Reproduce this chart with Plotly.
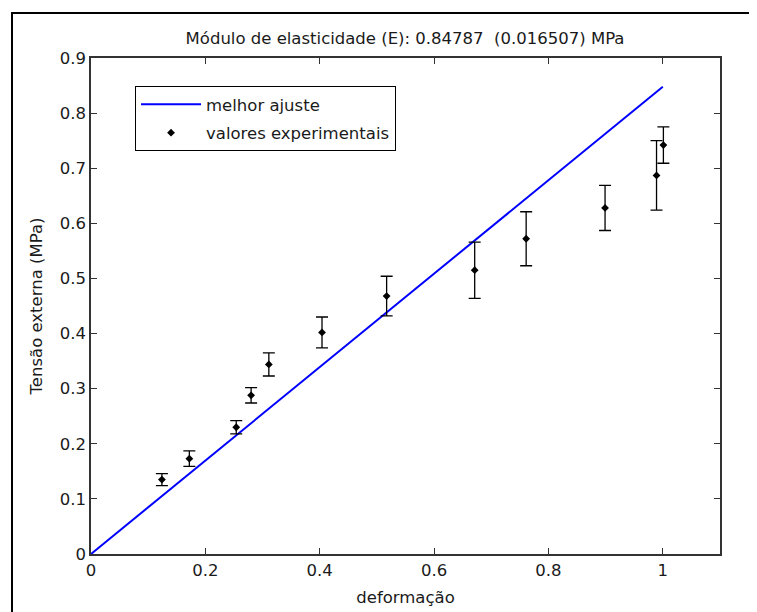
import plotly.graph_objects as go

# Data
deformacao = [0.124, 0.172, 0.254, 0.280, 0.311, 0.404, 0.517, 0.671, 0.761, 0.899, 0.989, 1.001]
tensao = [0.135, 0.173, 0.230, 0.288, 0.344, 0.402, 0.468, 0.515, 0.572, 0.628, 0.687, 0.742]
erro = [0.011, 0.014, 0.012, 0.014, 0.021, 0.028, 0.036, 0.051, 0.049, 0.041, 0.063, 0.033]
E = 0.84787
E_err = 0.016507
fit_x = [0, 1]
fit_y = [E * v for v in fit_x]

xticks = [0, 0.2, 0.4, 0.6, 0.8, 1]
xticklabels = ["0", "0.2", "0.4", "0.6", "0.8", "1"]
yticks = [0, 0.1, 0.2, 0.3, 0.4, 0.5, 0.6, 0.7, 0.8, 0.9]
yticklabels = ["0", "0.1", "0.2", "0.3", "0.4", "0.5", "0.6", "0.7", "0.8", "0.9"]

FONT = "DejaVu Sans"
TXT = "#1a1a1a"
FS = 16.5

fig = go.Figure()
fig.add_trace(go.Scatter(
    x=fit_x, y=fit_y, mode="lines", name="melhor ajuste", legendgroup="a",
    line=dict(color="#0000ff", width=2),
))
fig.add_trace(go.Scatter(
    x=deformacao, y=tensao, mode="markers", name="valores experimentais", legendgroup="b",
    marker=dict(color="black", size=6, symbol="diamond"),
    error_y=dict(type="data", array=erro, visible=True, color="black", thickness=1.3, width=6),
))

axis_common = dict(
    showgrid=False, zeroline=False, showline=True, linecolor="#333333", linewidth=1.5,
    mirror="ticks", ticks="inside", ticklen=6, tickcolor="#333333", tickwidth=1,
    tickfont=dict(family=FONT, size=FS, color=TXT), automargin=False,
)

fig.update_layout(
    width=757, height=612,
    margin=dict(l=83, r=45, t=50, b=66),
    paper_bgcolor="white", plot_bgcolor="white",
    title=dict(text=f"Módulo de elasticidade (E): {E}  ({E_err}) MPa",
               x=0.5245, xanchor="center", y=0.951, yanchor="middle",
               font=dict(family=FONT, size=FS, color=TXT)),
    xaxis=dict(range=[0, 1.1], tickvals=xticks, ticktext=xticklabels,
               title=dict(text="deformação", font=dict(family=FONT, size=FS, color=TXT), standoff=13),
               **axis_common),
    yaxis=dict(range=[0, 0.9], tickvals=yticks, ticktext=yticklabels,
               title=dict(text="Tensão externa (MPa)", font=dict(family=FONT, size=FS, color=TXT), standoff=13),
               **axis_common),
    legend=dict(x=0.07, y=0.9435, xanchor="left", yanchor="top",
                bgcolor="white", bordercolor="black", borderwidth=1,
                font=dict(family=FONT, size=FS, color=TXT),
                itemwidth=60, tracegroupgap=4),
    showlegend=True,
    shapes=[dict(type="rect", xref="paper", yref="paper",
                 x0=-0.1256, x1=1.07, y0=-0.13, y1=1.0907,
                 line=dict(color="black", width=2), fillcolor="rgba(0,0,0,0)", layer="below")],
)

fig.write_html("out.html")
